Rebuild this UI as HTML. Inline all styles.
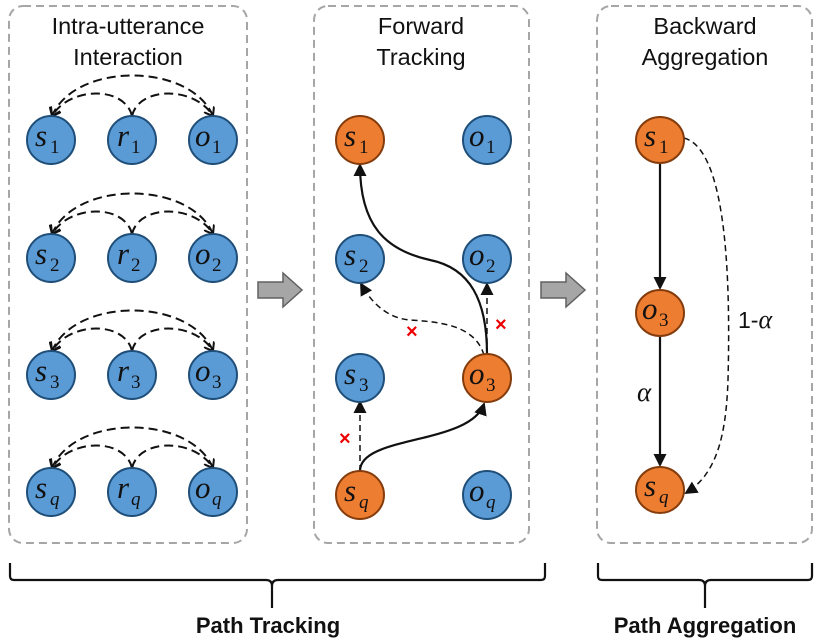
<!DOCTYPE html>
<html><head><meta charset="utf-8"><style>
html,body{margin:0;padding:0;background:#fff}
svg{display:block}
.t{font-family:"Liberation Sans",sans-serif;font-size:23.5px;fill:#111;text-anchor:middle}
.b{font-family:"Liberation Sans",sans-serif;font-size:22px;font-weight:bold;fill:#111;text-anchor:middle}
.n{font-family:"Liberation Serif",serif;font-style:italic;font-size:31px;fill:#111}
.s{font-family:"Liberation Serif",serif;font-size:19px;fill:#111}
.sq{font-family:"Liberation Serif",serif;font-style:italic;font-size:19px;fill:#111}
.bl{fill:#5b9bd5;stroke:#1f4e79;stroke-width:2}
.or{fill:#ed7d31;stroke:#843c0c;stroke-width:2}
.box{fill:none;stroke:#a6a6a6;stroke-width:2;stroke-dasharray:8,5}
.d{fill:none;stroke:#111;stroke-width:2;stroke-dasharray:9,5}
.d2{fill:none;stroke:#111;stroke-width:1.5;stroke-dasharray:6,4}
.l{fill:none;stroke:#111;stroke-width:2.2}
.x{fill:#e00;font-family:"Liberation Sans",sans-serif;font-size:20px;font-weight:bold}
</style></head><body>
<svg width="823" height="641" viewBox="0 0 823 641" xmlns="http://www.w3.org/2000/svg">
<defs>
<marker id="a" markerWidth="14" markerHeight="14" refX="11" refY="6.5" orient="auto" markerUnits="userSpaceOnUse"><path d="M0,0 L13,6.5 L0,13 z" fill="#111"/></marker>
<marker id="v" markerWidth="12" markerHeight="12" refX="8" refY="6" orient="auto" markerUnits="userSpaceOnUse"><path d="M0,0 L8,6 L0,12" fill="none" stroke="#111" stroke-width="2"/></marker>
</defs>
<rect class="box" x="9" y="6" width="238" height="537" rx="14"/>
<rect class="box" x="314" y="6" width="215" height="537" rx="14"/>
<rect class="box" x="597" y="6" width="215" height="537" rx="14"/>
<text class="t" x="128" y="34">Intra-utterance</text>
<text class="t" x="128" y="65">Interaction</text>
<text class="t" x="421" y="34">Forward</text>
<text class="t" x="421" y="65">Tracking</text>
<text class="t" x="705" y="34">Backward</text>
<text class="t" x="705" y="65">Aggregation</text>

<g>
<path class="d" d="M213 116 C190 62, 75 62, 52 116" marker-end="url(#v)"/>
<path class="d" d="M132 116 C125 86, 70 86, 52 116" marker-end="url(#v)"/>
<path class="d" d="M132 116 C139 86, 195 86, 213 116" marker-end="url(#v)"/>
<path class="d" d="M213 234 C190 180, 75 180, 52 234" marker-end="url(#v)"/>
<path class="d" d="M132 234 C125 204, 70 204, 52 234" marker-end="url(#v)"/>
<path class="d" d="M132 234 C139 204, 195 204, 213 234" marker-end="url(#v)"/>
<path class="d" d="M213 351 C190 297, 75 297, 52 351" marker-end="url(#v)"/>
<path class="d" d="M132 351 C125 321, 70 321, 52 351" marker-end="url(#v)"/>
<path class="d" d="M132 351 C139 321, 195 321, 213 351" marker-end="url(#v)"/>
<path class="d" d="M213 468 C190 414, 75 414, 52 468" marker-end="url(#v)"/>
<path class="d" d="M132 468 C125 438, 70 438, 52 468" marker-end="url(#v)"/>
<path class="d" d="M132 468 C139 438, 195 438, 213 468" marker-end="url(#v)"/>
</g>
<g>
<circle class="bl" cx="51" cy="140" r="24"/><circle class="bl" cx="132" cy="140" r="24"/><circle class="bl" cx="213" cy="140" r="24"/>
<circle class="bl" cx="51" cy="258" r="24"/><circle class="bl" cx="132" cy="258" r="24"/><circle class="bl" cx="213" cy="258" r="24"/>
<circle class="bl" cx="51" cy="375" r="24"/><circle class="bl" cx="132" cy="375" r="24"/><circle class="bl" cx="213" cy="375" r="24"/>
<circle class="bl" cx="51" cy="492" r="24"/><circle class="bl" cx="132" cy="492" r="24"/><circle class="bl" cx="213" cy="492" r="24"/>
</g>
<g>
<text class="n" x="35" y="146">s</text><text class="s" x="50" y="153">1</text>
<text class="n" x="117" y="146">r</text><text class="s" x="131" y="153">1</text>
<text class="n" x="195" y="146">o</text><text class="s" x="212" y="153">1</text>
<text class="n" x="35" y="264">s</text><text class="s" x="50" y="271">2</text>
<text class="n" x="117" y="264">r</text><text class="s" x="131" y="271">2</text>
<text class="n" x="195" y="264">o</text><text class="s" x="212" y="271">2</text>
<text class="n" x="35" y="381">s</text><text class="s" x="50" y="388">3</text>
<text class="n" x="117" y="381">r</text><text class="s" x="131" y="388">3</text>
<text class="n" x="195" y="381">o</text><text class="s" x="212" y="388">3</text>
<text class="n" x="35" y="498">s</text><text class="sq" x="50" y="505">q</text>
<text class="n" x="117" y="498">r</text><text class="sq" x="131" y="505">q</text>
<text class="n" x="195" y="498">o</text><text class="sq" x="212" y="505">q</text>
</g>

<path d="M258 282 H283 V273 L302 290 L283 307 V298 H258 Z" fill="#a6a6a6" stroke="#606060" stroke-width="1.5"/>
<path d="M541 282 H566 V273 L585 290 L566 307 V298 H541 Z" fill="#a6a6a6" stroke="#606060" stroke-width="1.5"/>

<path class="l" d="M360 471 C360 435, 470 445, 484 404" marker-end="url(#a)"/>
<path class="d2" d="M360 471 L360 402" marker-end="url(#a)"/>
<path class="l" d="M487 354 C487 300, 470 268, 430 260 C385 250, 360 225, 360 165" marker-end="url(#a)"/>
<path class="d2" d="M484 355 C475 325, 440 322, 410 320 C385 318, 370 300, 361 284" marker-end="url(#a)"/>
<path class="d2" d="M487 354 L487 284" marker-end="url(#a)"/>
<text class="x" x="406" y="338">×</text>
<text class="x" x="495" y="331">×</text>
<text class="x" x="339" y="445">×</text>

<circle class="or" cx="360" cy="140" r="24"/><circle class="bl" cx="487" cy="140" r="24"/>
<circle class="bl" cx="360" cy="259" r="24"/><circle class="bl" cx="487" cy="259" r="24"/>
<circle class="bl" cx="360" cy="378" r="24"/><circle class="or" cx="487" cy="378" r="24"/>
<circle class="or" cx="360" cy="495" r="24"/><circle class="bl" cx="487" cy="495" r="24"/>
<text class="n" x="344" y="146">s</text><text class="s" x="359" y="153">1</text>
<text class="n" x="469" y="146">o</text><text class="s" x="486" y="153">1</text>
<text class="n" x="344" y="265">s</text><text class="s" x="359" y="272">2</text>
<text class="n" x="469" y="265">o</text><text class="s" x="486" y="272">2</text>
<text class="n" x="344" y="384">s</text><text class="s" x="359" y="391">3</text>
<text class="n" x="469" y="384">o</text><text class="s" x="486" y="391">3</text>
<text class="n" x="344" y="501">s</text><text class="sq" x="359" y="508">q</text>
<text class="n" x="469" y="501">o</text><text class="sq" x="486" y="508">q</text>

<path class="l" d="M660 164 L660 288" marker-end="url(#a)"/>
<path class="l" d="M660 337 L660 465" marker-end="url(#a)"/>
<path class="d2" d="M684 138 C730 150, 730 300, 728 380 C726 440, 715 475, 686 493" marker-end="url(#a)"/>
<text x="738" y="328" style="font-family:'Liberation Sans',sans-serif;font-size:23px;fill:#111">1-<tspan style="font-family:'Liberation Serif',serif;font-style:italic;font-size:26px">α</tspan></text>
<text x="637" y="401" style="font-family:'Liberation Serif',serif;font-style:italic;font-size:27px;fill:#111">α</text>
<ellipse class="or" cx="660" cy="140" rx="24" ry="23"/>
<ellipse class="or" cx="660" cy="313" rx="24" ry="23"/>
<ellipse class="or" cx="660" cy="490" rx="24" ry="23"/>
<text class="n" x="644" y="146">s</text><text class="s" x="659" y="153">1</text>
<text class="n" x="642" y="319">o</text><text class="s" x="659" y="326">3</text>
<text class="n" x="644" y="496">s</text><text class="sq" x="659" y="503">q</text>

<path class="l" d="M10 563 V576 Q10 580 14 580 H266 Q272 580 272 586 V608 M272 586 Q272 580 278 580 H541 Q545 580 545 576 V563"/>
<path class="l" d="M598 563 V576 Q598 580 602 580 H699 Q705 580 705 586 V608 M705 586 Q705 580 711 580 H808 Q812 580 812 576 V563"/>
<text class="b" x="268" y="633">Path Tracking</text>
<text class="b" x="705" y="633">Path Aggregation</text>
</svg>
</body></html>
